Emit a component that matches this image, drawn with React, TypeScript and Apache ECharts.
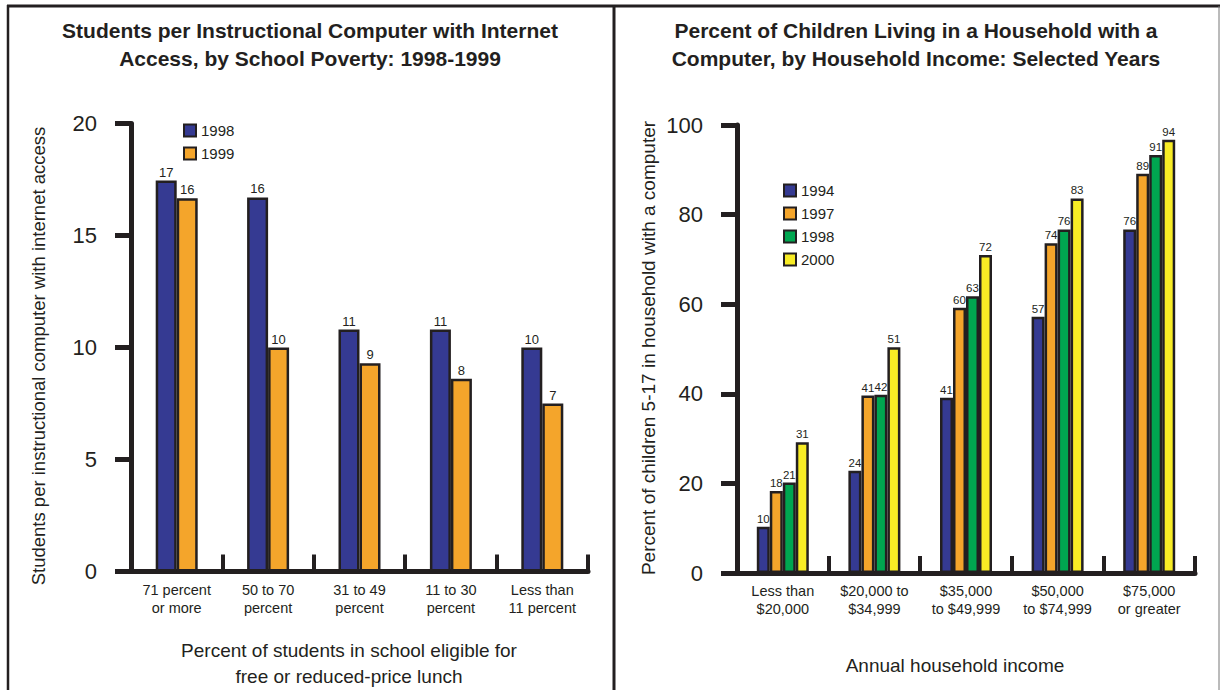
import React, { useEffect, useRef } from "react";
import * as echarts from "echarts";

// ---- Left chart data ----
const povertyCategories = [
  "71 percent\nor more",
  "50 to 70\npercent",
  "31 to 49\npercent",
  "11 to 30\npercent",
  "Less than\n11 percent",
];
const students1998 = [17.45, 16.7, 10.8, 10.8, 10.0];
const students1999 = [16.66, 10.0, 9.3, 8.6, 7.5];
const students1998Labels = ["17", "16", "11", "11", "10"];
const students1999Labels = ["16", "10", "9", "8", "7"];
const leftTicks = [0, 5, 10, 15, 20];

// ---- Right chart data ----
const incomeCategories = [
  "Less than\n$20,000",
  "$20,000 to\n$34,999",
  "$35,000\nto $49,999",
  "$50,000\nto $74,999",
  "$75,000\nor greater",
];
const pct1994 = [10.3, 22.8, 39.1, 57.2, 76.7];
const pct1997 = [18.3, 39.6, 59.2, 73.6, 89.1];
const pct1998 = [20.2, 39.8, 61.8, 76.7, 93.3];
const pct2000 = [29.2, 50.4, 71.0, 83.6, 96.7];
const pct1994Labels = ["10", "24", "41", "57", "76"];
const pct1997Labels = ["18", "41", "60", "74", "89"];
const pct1998Labels = ["21", "42", "63", "76", "91"];
const pct2000Labels = ["31", "51", "72", "83", "94"];
const rightTicks = [0, 20, 40, 60, 80, 100];

const INK = "#231f20";
const BLUE = "#353a92";
const ORANGE = "#f4a52b";
const GREEN = "#00a650";
const YELLOW = "#f8ec25";
const FONT = "'Liberation Sans', Arial, sans-serif";

export default function App() {
  const ref = useRef<HTMLDivElement>(null);

  useEffect(() => {
    if (!ref.current) return;
    const chart = echarts.init(ref.current, null, { renderer: "svg" });

    const barSeries = (
      name: string,
      data: number[],
      labels: string[],
      color: string,
      axis: number,
      width: number,
      labelSize: number
    ) => ({
      type: "bar",
      name,
      xAxisIndex: axis,
      yAxisIndex: axis,
      data,
      barWidth: width,
      barGap: "0%",
      itemStyle: { color, borderColor: INK, borderWidth: 2.5 },
      label: {
        show: true,
        position: "top",
        distance: 2,
        fontSize: labelSize,
        fontFamily: FONT,
        color: INK,
        formatter: (p: any) => labels[p.dataIndex],
      },
    });

    const xAxisCommon = {
      type: "category",
      axisLine: { lineStyle: { color: INK, width: 5 } },
      axisTick: { show: true, inside: true, length: 17, lineStyle: { color: INK, width: 4 } },
      axisLabel: { fontSize: 14.5, lineHeight: 18, margin: 9, color: INK, fontFamily: FONT },
    };
    const yAxisCommon = {
      type: "value",
      axisLine: { show: true, lineStyle: { color: INK, width: 5 } },
      axisTick: { show: true, inside: false, length: 16, lineStyle: { color: INK, width: 5 } },
      splitLine: { show: false },
      axisLabel: { fontSize: 22, margin: 34, color: INK, fontFamily: FONT },
    };

    const lineStyle = { stroke: INK, lineWidth: 3 };

    chart.setOption({
      animation: false,
      backgroundColor: "#ffffff",
      textStyle: { fontFamily: FONT },
      grid: [
        { left: 131, right: 1220 - 588, top: 123.5, bottom: 690 - 571.5 },
        { left: 737, right: 1220 - 1195, top: 125, bottom: 690 - 573 },
      ],
      xAxis: [
        { ...xAxisCommon, gridIndex: 0, data: povertyCategories },
        { ...xAxisCommon, gridIndex: 1, data: incomeCategories },
      ],
      yAxis: [
        {
          ...yAxisCommon,
          gridIndex: 0,
          min: leftTicks[0],
          max: leftTicks[leftTicks.length - 1],
          interval: leftTicks[1] - leftTicks[0],
        },
        {
          ...yAxisCommon,
          gridIndex: 1,
          min: rightTicks[0],
          max: rightTicks[rightTicks.length - 1],
          interval: rightTicks[1] - rightTicks[0],
        },
      ],
      legend: [
        {
          orient: "vertical",
          left: 183,
          top: 123,
          padding: 0,
          itemWidth: 12,
          itemHeight: 12,
          itemGap: 8,
          icon: "rect",
          textStyle: { fontSize: 15, color: INK, fontFamily: FONT },
          data: [
            { name: "1998", itemStyle: { color: BLUE, borderColor: INK, borderWidth: 2 } },
            { name: "1999", itemStyle: { color: ORANGE, borderColor: INK, borderWidth: 2 } },
          ],
        },
        {
          orient: "vertical",
          left: 783,
          top: 183,
          padding: 0,
          itemWidth: 12,
          itemHeight: 12,
          itemGap: 8,
          icon: "rect",
          textStyle: { fontSize: 15, color: INK, fontFamily: FONT },
          data: [
            { name: "1994", itemStyle: { color: BLUE, borderColor: INK, borderWidth: 2 } },
            { name: "1997", itemStyle: { color: ORANGE, borderColor: INK, borderWidth: 2 } },
            { name: "1998", itemStyle: { color: GREEN, borderColor: INK, borderWidth: 2 } },
            { name: "2000", itemStyle: { color: YELLOW, borderColor: INK, borderWidth: 2 } },
          ],
        },
      ],
      series: [
        barSeries("1998", students1998, students1998Labels, BLUE, 0, 21, 13),
        barSeries("1999", students1999, students1999Labels, ORANGE, 0, 21, 13),
        barSeries("1994", pct1994, pct1994Labels, BLUE, 1, 13, 11.5),
        barSeries("1997", pct1997, pct1997Labels, ORANGE, 1, 13, 11.5),
        barSeries("1998", pct1998, pct1998Labels, GREEN, 1, 13, 11.5),
        barSeries("2000", pct2000, pct2000Labels, YELLOW, 1, 13, 11.5),
      ],
      graphic: [
        // frame
        { type: "line", shape: { x1: 7, y1: 6, x2: 1220, y2: 6 }, style: lineStyle, silent: true },
        { type: "line", shape: { x1: 8, y1: 5, x2: 8, y2: 690 }, style: { stroke: INK, lineWidth: 2.5 }, silent: true },
        { type: "line", shape: { x1: 614, y1: 5, x2: 614, y2: 690 }, style: lineStyle, silent: true },
        { type: "line", shape: { x1: 1219, y1: 6, x2: 1219, y2: 690 }, style: { stroke: "#777777", lineWidth: 1 }, silent: true },
        // titles
        {
          type: "text",
          x: 310,
          y: 44,
          style: {
            text: "Students per Instructional Computer with Internet\nAccess, by School Poverty: 1998-1999",
            fontSize: 21,
            fontWeight: "bold",
            fontFamily: FONT,
            lineHeight: 28,
            fill: INK,
            textAlign: "center",
            textVerticalAlign: "middle",
          },
        },
        {
          type: "text",
          x: 916,
          y: 44,
          style: {
            text: "Percent of Children Living in a Household with a\nComputer, by Household Income: Selected Years",
            fontSize: 21,
            fontWeight: "bold",
            fontFamily: FONT,
            lineHeight: 28,
            fill: INK,
            textAlign: "center",
            textVerticalAlign: "middle",
          },
        },
        // y-axis names
        {
          type: "text",
          x: 38,
          y: 356,
          rotation: Math.PI / 2,
          style: {
            text: "Students per instructional computer with internet access",
            fontSize: 18.5,
            fontFamily: FONT,
            fill: INK,
            textAlign: "center",
            textVerticalAlign: "middle",
          },
        },
        {
          type: "text",
          x: 648,
          y: 348,
          rotation: Math.PI / 2,
          style: {
            text: "Percent of children 5-17 in household with a computer",
            fontSize: 19,
            fontFamily: FONT,
            fill: INK,
            textAlign: "center",
            textVerticalAlign: "middle",
          },
        },
        // x-axis names
        {
          type: "text",
          x: 349,
          y: 663,
          style: {
            text: "Percent of students in school eligible for\nfree or reduced-price lunch",
            fontSize: 19,
            lineHeight: 26,
            fontFamily: FONT,
            fill: INK,
            textAlign: "center",
            textVerticalAlign: "middle",
          },
        },
        {
          type: "text",
          x: 955,
          y: 665,
          style: {
            text: "Annual household income",
            fontSize: 19,
            fontFamily: FONT,
            fill: INK,
            textAlign: "center",
            textVerticalAlign: "middle",
          },
        },
      ],
    });

    return () => chart.dispose();
  }, []);

  return (
    <div
      ref={ref}
      style={{ position: "fixed", left: 0, top: 0, width: 1220, height: 690, background: "#fff" }}
    />
  );
}
